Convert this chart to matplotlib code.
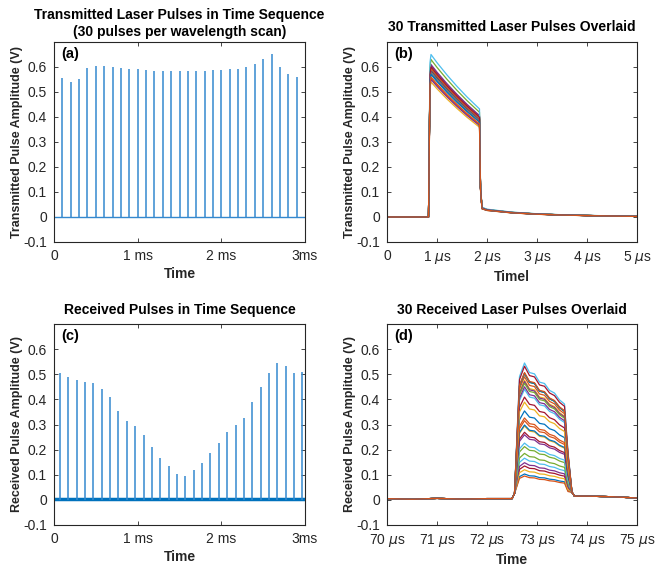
import numpy as np
import matplotlib.pyplot as plt

plt.rcParams['font.family'] = ['Liberation Sans', 'DejaVu Sans']
plt.rcParams['mathtext.fontset'] = 'dejavusans'

# === Datos ===
# (a) amplitudes de los 30 pulsos transmitidos, uno cada 0.1 ms
tx_times = [0.0, 0.1, 0.2, 0.3, 0.4, 0.5, 0.6, 0.7, 0.8, 0.9,
            1.0, 1.1, 1.2, 1.3, 1.4, 1.5, 1.6, 1.7, 1.8, 1.9,
            2.0, 2.1, 2.2, 2.3, 2.4, 2.5, 2.6, 2.7, 2.8, 2.9]
tx_amp = [0.575, 0.555, 0.540, 0.550, 0.595, 0.605, 0.605, 0.600, 0.595, 0.590,
          0.590, 0.587, 0.585, 0.585, 0.584, 0.583, 0.583, 0.583, 0.584, 0.586,
          0.587, 0.590, 0.593, 0.600, 0.610, 0.630, 0.650, 0.600, 0.570, 0.560]

# (c) amplitudes de los 30 pulsos recibidos
rx_times = [0.07, 0.17, 0.27, 0.37, 0.47, 0.57, 0.67, 0.77, 0.87, 0.97,
            1.07, 1.17, 1.27, 1.37, 1.47, 1.57, 1.67, 1.77, 1.87, 1.97,
            2.07, 2.17, 2.27, 2.37, 2.47, 2.57, 2.67, 2.77, 2.87, 2.97]
rx_amp = [0.504, 0.490, 0.476, 0.471, 0.464, 0.440, 0.409, 0.354, 0.315, 0.294,
          0.259, 0.212, 0.166, 0.135, 0.103, 0.095, 0.120, 0.148, 0.185, 0.226,
          0.269, 0.298, 0.326, 0.389, 0.450, 0.503, 0.545, 0.532, 0.503, 0.507]

# (b) forma del pulso transmitido (normalizada al pico), tiempo en µs
tx_shape_t = [0.0, 0.83, 0.86, 0.88, 1.0, 1.2, 1.4, 1.6, 1.85, 1.87, 1.90,
              2.0, 2.5, 3.0, 3.5, 4.0, 4.5, 5.0]
tx_shape_v = [0.0, 0.0, 0.95, 1.0, 0.95, 0.874, 0.804, 0.739, 0.665, 0.20, 0.06,
              0.048, 0.03, 0.02, 0.014, 0.01, 0.007, 0.004]

# (d) forma del pulso recibido (normalizada al pico), tiempo en µs
rx_shape_t = [70.0, 70.5, 71.0, 71.5, 72.0, 72.5, 72.55, 72.65, 72.75, 72.85,
              72.95, 73.05, 73.15, 73.25, 73.35, 73.45, 73.55, 73.62, 73.70,
              73.75, 74.0, 74.5, 75.0]
rx_shape_v = [0.01, 0.005, 0.012, 0.006, 0.01, 0.01, 0.05, 0.9, 1.0, 0.93,
              0.92, 0.86, 0.85, 0.80, 0.78, 0.73, 0.70, 0.35, 0.06,
              0.03, 0.03, 0.025, 0.015]

matlab_colors = ['#0072BD', '#D95319', '#EDB120', '#7E2F8E',
                 '#77AC30', '#4DBEEE', '#A2142F']
ink = '#262626'
spike = '#3489cf'

fig = plt.figure(figsize=(6.55, 5.66), dpi=100)
W, H = 655, 566
def add_axes(l, t, r, b):
    return fig.add_axes([l / W, 1 - b / H, (r - l) / W, (b - t) / H])

ax_a = add_axes(54, 42, 305, 242)
ax_b = add_axes(387, 42, 637, 242)
ax_c = add_axes(54, 324, 305, 525)
ax_d = add_axes(387, 324, 637, 525)

def style(ax, letter, title, ylabel, xlabel, tpad=8):
    ax.set_ylim(-0.1, 0.7)
    ax.set_yticks([-0.1, 0, 0.1, 0.2, 0.3, 0.4, 0.5, 0.6])
    ax.set_yticklabels(['-0.1', '0', '0.1', '0.2', '0.3', '0.4', '0.5', '0.6'])
    ax.tick_params(direction='in', length=3, width=0.6, top=True, right=True,
                   labelsize=10, colors=ink, pad=5)
    for s in ax.spines.values():
        s.set_color(ink)
        s.set_linewidth(0.8)
    ax.set_title(title, fontsize=10, fontweight='bold', pad=tpad, linespacing=1.35)
    ax.set_ylabel(ylabel, fontsize=9, fontweight='bold', color=ink, labelpad=0)
    ax.set_xlabel(xlabel, fontsize=10, fontweight='bold', color=ink, labelpad=3)
    ax.text(0.03, 0.94, letter, transform=ax.transAxes, fontsize=10.5,
            fontweight='bold', va='center', ha='left')

# === (a) pulsos transmitidos en secuencia ===
ax_a.plot([0, 3], [0, 0], color=spike, lw=1.0)
ax_a.vlines(tx_times, 0, tx_amp, color=spike, lw=1.1)
ax_a.set_xlim(0, 3)
ax_a.set_xticks([0, 1, 2, 3])
ax_a.set_xticklabels(['0', '1 ms', '2 ms', '3ms'])
style(ax_a, '(a)', 'Transmitted Laser Pulses in Time Sequence\n(30 pulses per wavelength scan)',
      'Transmitted Pulse Amplitude (V)', 'Time', tpad=4)

# === (b) 30 pulsos transmitidos superpuestos ===
for i, a in enumerate(tx_amp):
    ax_b.plot(tx_shape_t, np.array(tx_shape_v) * a,
              color=matlab_colors[i % 7], lw=0.9)
ax_b.set_xlim(0, 5)
ax_b.set_xticks([0, 1, 2, 3, 4, 5])
ax_b.set_xticklabels(['0'] + [f'{k} $\\mu$s' for k in range(1, 6)])
style(ax_b, '(b)', '30 Transmitted Laser Pulses Overlaid',
      'Transmitted Pulse Amplitude (V)', 'Timel')

# === (c) pulsos recibidos en secuencia ===
ax_c.plot([0, 3], [0.003, 0.003], color='#0072BD', lw=2.5)
ax_c.vlines(rx_times, 0, rx_amp, color=spike, lw=1.1)
ax_c.set_xlim(0, 3)
ax_c.set_xticks([0, 1, 2, 3])
ax_c.set_xticklabels(['0', '1 ms', '2 ms', '3ms'])
style(ax_c, '(c)', 'Received Pulses in Time Sequence',
      'Received Pulse Amplitude (V)', 'Time', tpad=7)

# === (d) 30 pulsos recibidos superpuestos ===
for i, a in enumerate(rx_amp):
    v = np.array(rx_shape_v)
    scaled = np.where(v > 0.1, v * a, v * 0.5)
    ax_d.plot(rx_shape_t, scaled, color=matlab_colors[i % 7], lw=0.9)
ax_d.set_xlim(70, 75)
ax_d.set_xticks([70, 71, 72, 73, 74, 75])
ax_d.set_xticklabels([f'{k} $\\mu$s' for k in range(70, 76)])
style(ax_d, '(d)', '30 Received Laser Pulses Overlaid',
      'Received Pulse Amplitude (V)', 'Time', tpad=7)

fig.savefig('out.png', dpi=100)
